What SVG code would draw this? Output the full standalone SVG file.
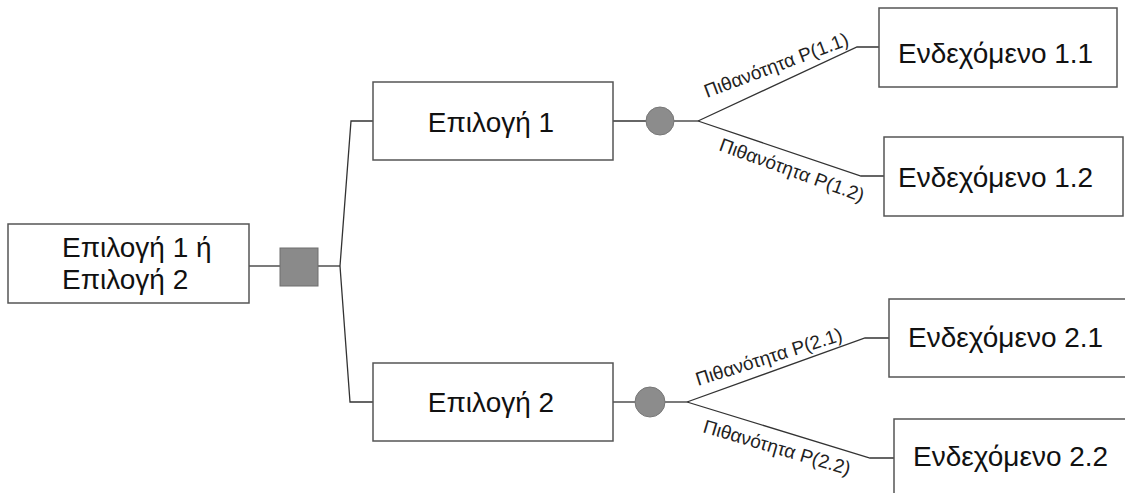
<svg xmlns="http://www.w3.org/2000/svg" width="1125" height="493" viewBox="0 0 1125 493">
<style>
.box{fill:#fff;stroke:#555;stroke-width:1.5}
.t{font-family:"Liberation Sans",Arial,sans-serif;font-size:28px;fill:#111}
.lb{font-family:"Liberation Sans",Arial,sans-serif;font-size:19px;fill:#222}
.ln{fill:none;stroke:#333;stroke-width:1.3}
.chance{fill:#8c8c8c;stroke:#777;stroke-width:1}
.dec{fill:#8a8a8a;stroke:#6e6e6e;stroke-width:1}
</style>
<rect width="1125" height="493" fill="#fff"/>
<g id="connectors">
<line class="ln" x1="249" y1="266" x2="280" y2="266"/>
<polyline class="ln" points="318,266 340,266"/>
<polyline class="ln" points="373,121 351,121 340,266 350,402 373,402"/>
<line class="ln" x1="613" y1="121" x2="646" y2="121"/>
<line class="ln" x1="674" y1="121" x2="698" y2="121"/>
<polyline class="ln" points="698,121 857,47 879,47"/>
<polyline class="ln" points="698,121 861,176 884,176"/>
<line class="ln" x1="613" y1="402" x2="635" y2="402"/>
<line class="ln" x1="665" y1="402" x2="687" y2="402"/>
<polyline class="ln" points="687,402 865,338 889,338"/>
<polyline class="ln" points="687,402 870,458 894,458"/>
<text class="lb" transform="translate(707,98) rotate(-20.5)">Πιθανότητα P(1.1)</text>
<text class="lb" transform="translate(718,150) rotate(20)">Πιθανότητα P(1.2)</text>
<text class="lb" transform="translate(698,386) rotate(-17.5)">Πιθανότητα P(2.1)</text>
<text class="lb" transform="translate(702,432) rotate(16.5)">Πιθανότητα P(2.2)</text>
</g>
<g id="root">
<rect class="box" x="8" y="224" width="241" height="79"/>
<text class="t" x="62" y="257">Επιλογή 1 ή</text>
<text class="t" x="62" y="289">Επιλογή 2</text>
</g>
<g id="decision">
<rect class="dec" x="280" y="248" width="38" height="38"/>
</g>
<g id="option1">
<rect class="box" x="373" y="82" width="240" height="78"/>
<text class="t" x="491" y="132" text-anchor="middle">Επιλογή 1</text>
</g>
<g id="option2">
<rect class="box" x="373" y="363" width="240" height="78"/>
<text class="t" x="491" y="412" text-anchor="middle">Επιλογή 2</text>
</g>
<g id="chance1">
<circle class="chance" cx="660" cy="121" r="14"/>
</g>
<g id="chance2">
<circle class="chance" cx="650" cy="402" r="15"/>
</g>
<g id="event11">
<rect class="box" x="879" y="8" width="238" height="79"/>
<text class="t" x="898" y="63">Ενδεχόμενο 1.1</text>
</g>
<g id="event12">
<rect class="box" x="884" y="137" width="239" height="79"/>
<text class="t" x="898" y="187">Ενδεχόμενο 1.2</text>
</g>
<g id="event21">
<rect class="box" x="889" y="299" width="240" height="78"/>
<text class="t" x="908" y="347">Ενδεχόμενο 2.1</text>
</g>
<g id="event22">
<rect class="box" x="894" y="419" width="240" height="80"/>
<text class="t" x="913" y="466">Ενδεχόμενο 2.2</text>
</g>
</svg>
